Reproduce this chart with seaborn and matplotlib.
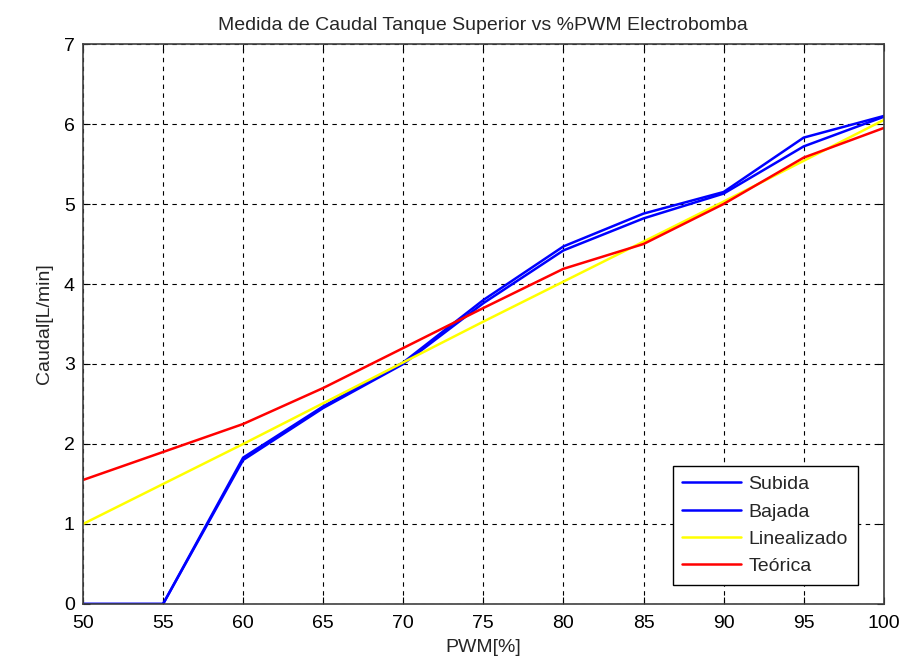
import matplotlib
matplotlib.use("Agg")
import matplotlib.pyplot as plt
import seaborn as sns
import pandas as pd

pwm = [50, 55, 60, 65, 70, 75, 80, 85, 90, 95, 100]
subida = [0.0, 0.0, 1.80, 2.45, 3.00, 3.76, 4.42, 4.82, 5.13, 5.72, 6.09]
bajada = [0.0, 0.0, 1.83, 2.47, 3.02, 3.80, 4.47, 4.88, 5.15, 5.83, 6.10]
linealizado = [1.0, 1.5, 2.0, 2.51, 3.02, 3.53, 4.03, 4.53, 5.03, 5.54, 6.05]
teorica = [1.55, 1.90, 2.25, 2.70, 3.20, 3.70, 4.19, 4.50, 5.00, 5.58, 5.95]

sns.set_style("white")
plt.rcParams['font.family'] = ['Liberation Sans', 'DejaVu Sans']

fig = plt.figure(figsize=(9.12, 6.57), dpi=100)
ax = fig.add_axes([0.091, 0.0807, 0.878, 0.8523])

series = [("Subida", subida, "#0000ff"), ("Bajada", bajada, "#0000ff"),
          ("Linealizado", linealizado, "#ffff00"), ("Teórica", teorica, "#ff0000")]
for name, vals, col in series:
    df = pd.DataFrame({"PWM": pwm, "Caudal": vals})
    sns.lineplot(data=df, x="PWM", y="Caudal", ax=ax, color=col, linewidth=1.8, label=name)

ax.set_xlim(50, 100)
ax.set_ylim(0, 7)
ax.set_xticks(range(50, 101, 5))
ax.set_yticks(range(0, 8))
ax.grid(True, linestyle=(0, (4, 4)), color="black", linewidth=0.8)
ax.tick_params(direction="in", labelsize=14, length=5, colors="black",
               top=True, right=True, bottom=True, left=True)
ax.tick_params(axis="x", pad=8)
ax.tick_params(axis="y", pad=6)
for sp in ax.spines.values():
    sp.set_color("#404040")
    sp.set_linewidth(1.2)
ax.set_xlabel("PWM[%]", fontsize=14, labelpad=5)
ax.set_ylabel("Caudal[L/min]", fontsize=14, labelpad=8)
ax.set_title("Medida de Caudal Tanque Superior vs %PWM Electrobomba", fontsize=14, pad=10)
leg = ax.legend(loc="lower right", bbox_to_anchor=(0.9675, 0.034), borderaxespad=0,
                fontsize=14, frameon=True, fancybox=False,
                edgecolor="black", framealpha=1, handlelength=3.0,
                labelspacing=0.5, borderpad=0.5, handletextpad=0.4)
leg.get_frame().set_linewidth(1.0)

fig.savefig("out.png", dpi=100, facecolor="white")
